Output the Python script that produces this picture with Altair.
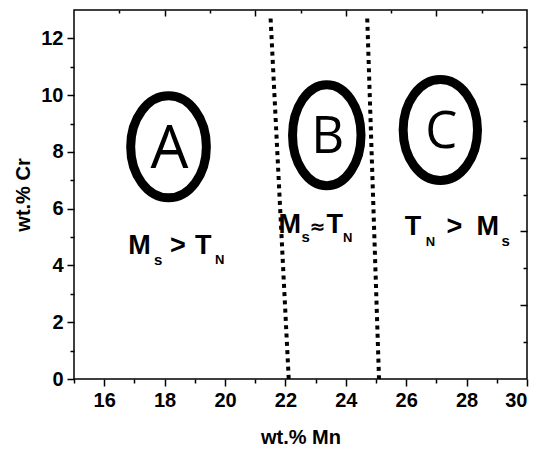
import altair as alt
import pandas as pd

# ---- data ----
boundary_id = ["left", "left", "right", "right"]
boundary_mn = [21.51, 22.11, 24.71, 25.10]
boundary_cr = [12.7, 0.0, 12.7, 0.0]

regions = ["A", "B", "C"]
region_mn = [18.13, 23.37, 27.13]
region_cr = [8.18, 8.59, 8.77]

label_mn = [16.80, 21.77, 25.95]
label_cr = [4.39, 5.13, 5.09]
label_pieces = [
    ["M", "s", ">", "T", "N"],
    ["M", "s", "≈", "T", "N"],
    ["T", "N", ">", "M", "s"],
]

x_major = [16, 18, 20, 22, 24, 26, 28, 30]
x_minor = [15, 17, 19, 21, 23, 25, 27, 29]
y_major = [0, 2, 4, 6, 8, 10, 12]
y_minor = [1, 3, 5, 7, 9, 11]
top_major = [18, 21, 24, 27]
top_minor = [16.5, 19.5, 22.5, 25.5, 28.5]
right_major = [2.6, 5.2, 7.8, 10.4]
right_minor = [1.3, 3.9, 6.5, 9.1, 11.7]

# ---- layout / style ----
W, H = 453, 369
FONT = "Liberation Sans"
xs = alt.Scale(domain=[15, 30], nice=False, zero=False)
ys = alt.Scale(domain=[0, 13], nice=False, zero=False)

common = dict(grid=False, domain=False, tickColor="black", tickWidth=1.5,
              labelColor="black", titleColor="black")

ax_bottom = alt.Axis(orient="bottom", values=x_major, title="wt.% Mn", tickSize=7,
                     labelFont=FONT, labelFontSize=20, labelFontWeight="bold",
                     labelPadding=4, titleFont=FONT, titleFontSize=20,
                     titleFontWeight="bold", titlePadding=17, format="d", **common)
ax_bottom_minor = alt.Axis(orient="bottom", values=x_minor, title=None, tickSize=4,
                           labels=False, **common)
ax_top = alt.Axis(orient="bottom", offset=-H, values=top_major, title=None,
                  tickSize=6, labels=False, **common)
ax_top_minor = alt.Axis(orient="bottom", offset=-H, values=top_minor, title=None,
                        tickSize=3, labels=False, **common)
ax_left = alt.Axis(orient="left", values=y_major, title="wt.% Cr", tickSize=7,
                   labelFont=FONT, labelFontSize=20, labelFontWeight="bold",
                   labelPadding=4, titleFont=FONT, titleFontSize=20,
                   titleFontWeight="bold", titlePadding=7, format="d", **common)
ax_left_minor = alt.Axis(orient="left", values=y_minor, title=None, tickSize=4,
                         labels=False, **common)
ax_right = alt.Axis(orient="left", offset=-W, values=right_major, title=None,
                    tickSize=7, labels=False, **common)
ax_right_minor = alt.Axis(orient="left", offset=-W, values=right_minor, title=None,
                          tickSize=4, labels=False, **common)

bdf = pd.DataFrame({"id": boundary_id, "mn": boundary_mn, "cr": boundary_cr})

lines = alt.Chart(bdf).mark_line(
    color="black", strokeWidth=4, strokeDash=[4, 4.3], strokeCap="butt"
).encode(
    x=alt.X("mn:Q", scale=xs, axis=ax_bottom),
    y=alt.Y("cr:Q", scale=ys, axis=ax_left),
    detail="id:N",
)


def carrier(xa, ya):
    return alt.Chart(bdf).mark_point(opacity=0).encode(
        x=alt.X("mn:Q", scale=xs, axis=xa),
        y=alt.Y("cr:Q", scale=ys, axis=ya),
    )


layers = [
    lines,
    carrier(ax_bottom_minor, ax_left_minor),
    carrier(ax_top, ax_right),
    carrier(ax_top_minor, ax_right_minor),
]

# ellipses (centerline width, height in px) and letters
ell_style = [(75.7, 102, 60), (68.5, 101, 51), (74.3, 101, 51)]
for i, r in enumerate(regions):
    w, h, fs = ell_style[i]
    rr = round(w / h, 3)
    path = f"M{-rr},0A{rr},1 0 1,1 {rr},0A{rr},1 0 1,1 {-rr},0Z"
    df = pd.DataFrame({"mn": [region_mn[i]], "cr": [region_cr[i]], "t": [r]})
    enc = dict(x=alt.X("mn:Q", scale=xs, axis=None), y=alt.Y("cr:Q", scale=ys, axis=None))
    layers.append(alt.Chart(df).mark_point(
        shape=path, size=h * h, filled=False, strokeWidth=9, color="black", opacity=1
    ).encode(**enc))
    layers.append(alt.Chart(df).mark_text(
        font="Open Sans", fontSize=fs, align="center", baseline="middle",
        dx=1, dy=3, color="black"
    ).encode(text="t:N", **enc))

# labels with subscripts: (dx, dy, size, font) per piece
DJ = "DejaVu Sans"
piece_style = [
    [(0, 0, 27, FONT), (25.7, 10.7, 15, FONT), (41.7, 0, 27, FONT), (66.7, 0, 27, FONT), (86.7, 10, 13, FONT)],
    [(0, 0, 27, FONT), (23, 8.4, 15, FONT), (31, 0, 19, DJ), (48, 0, 27, FONT), (64.5, 8.4, 13, FONT)],
    [(0, 0, 27, FONT), (21, 11.4, 13, FONT), (41.7, 0, 27, FONT), (71.7, 0, 27, FONT), (96.7, 11.4, 15, FONT)],
]
for i in range(3):
    for j, txt in enumerate(label_pieces[i]):
        dx, dy, fs, fnt = piece_style[i][j]
        df = pd.DataFrame({"mn": [label_mn[i]], "cr": [label_cr[i]], "t": [txt]})
        layers.append(alt.Chart(df).mark_text(
            font=fnt, fontWeight="bold", fontSize=fs, align="left",
            baseline="alphabetic", dx=dx, dy=dy, color="black"
        ).encode(
            x=alt.X("mn:Q", scale=xs, axis=None),
            y=alt.Y("cr:Q", scale=ys, axis=None),
            text="t:N",
        ))

chart = alt.layer(*layers).resolve_axis(x="independent", y="independent").properties(
    width=W, height=H,
    autosize=alt.AutoSizeParams(type="none"),
    padding={"left": 66, "top": 2, "right": 2, "bottom": 68},
).configure_view(stroke="black", strokeWidth=1.5)

chart.save("out.html", embed_options={"renderer": "svg", "actions": False})
